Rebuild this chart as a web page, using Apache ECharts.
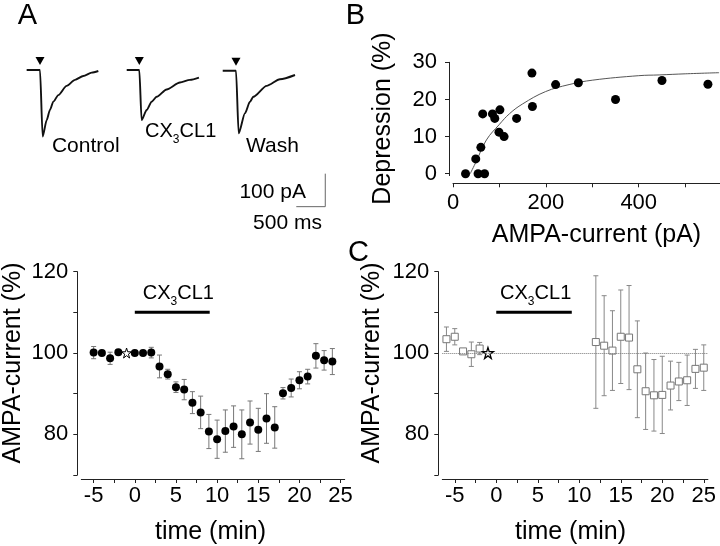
<!DOCTYPE html>
<html><head><meta charset="utf-8">
<script src="https://cdn.jsdelivr.net/npm/echarts@6/dist/echarts.min.js"></script>
<style>html,body{margin:0;padding:0;background:#fff}#c{width:720px;height:546px}</style>
</head><body><div id="c"></div>
<script>
// ---------- Panel A: example traces (ms from stimulus, pA) ----------
const controlTime = [-230, 0, 46, 115, 172, 230, 316, 460, 604, 747, 891, 1006];
const controlCurr = [0, 0, -202, -152, -121, -96, -76, -48, -30, -18, -8, -3];
const cxTime = [-217, 0, 40, 127, 213, 299, 472, 701, 874, 1029];
const cxCurr = [0, 0, -152, -121, -96, -81, -59, -38, -30, -23];
const washTime = [-229, 0, 46, 155, 241, 299, 529, 759, 1018];
const washCurr = [0, 0, -190, -129, -94, -79, -46, -26, -13];
const stimMarkCurr = 27;
const scaleBarMs = 500, scaleBarPA = 100;

// ---------- Panel B ----------
const bCurrent = [27, 49, 54, 60, 68, 64, 85, 90, 101, 99, 110, 137, 170, 171, 221, 270, 350, 450, 549];
const bDepression = [0, 4.0, 0, 7.1, 0, 16.1, 16.1, 14.9, 17.2, 11.2, 10.0, 14.9, 27.1, 18.1, 24.0, 24.5, 20.0, 25.1, 24.1];
const bFitX = [37, 50, 72, 100, 122, 150, 199, 250, 301, 400, 444, 500, 573];
const bFitY = [0, 3.3, 9.1, 13.3, 16.2, 18.8, 22.1, 24.0, 25.2, 26.4, 26.6, 26.9, 27.2];
const bXLabels = [0, 200, 400];
const bXTicks = [0, 100, 200, 300, 400, 500];
const bYLabels = [0, 10, 20, 30];

// ---------- Bottom-left time course ----------
const leftTime = [-5, -4, -3, -2, 0, 1, 2, 3, 4, 5, 6, 7, 8, 9, 10, 11, 12, 13, 14, 15, 16, 17, 18, 19, 20, 21, 22, 23, 24];
const leftMean = [100.1, 100.0, 98.7, 100.2, 100.0, 100.0, 100.1, 96.7, 94.8, 91.6, 91.0, 87.8, 85.4, 80.7, 78.8, 80.8, 81.9, 80.0, 82.9, 81.1, 83.9, 81.7, 90.1, 91.4, 93.3, 94.2, 99.3, 98.2, 97.9];
const leftErr = [1.5, 0, 1.5, 0, 0, 0, 1.3, 2.8, 1.2, 1.3, 2.5, 2.7, 4.0, 4.2, 4.7, 5.2, 5.1, 6.0, 5.3, 5.3, 6.1, 5.1, 1.4, 2.2, 2.1, 1.8, 3.0, 2.4, 3.2];
const leftStar = [-1, 100];

// ---------- Panel C time course ----------
const rightTime = [-6, -5, -4, -3, -2, 12, 13, 14, 15, 16, 17, 18, 19, 20, 21, 22, 23, 24, 25];
const rightMean = [103.4, 104.0, 100.4, 99.7, 101.1, 102.7, 101.8, 100.6, 104.0, 103.8, 96.0, 90.6, 89.6, 89.7, 92.0, 93.0, 93.3, 96.1, 96.4];
const rightErr = [3.0, 2.0, 0.6, 3.0, 1.5, 16.3, 12.3, 9.8, 11.5, 12.8, 11.9, 9.4, 8.8, 9.5, 6.0, 4.7, 6.2, 4.8, 5.6];
const rightStar = [-1, 100];
const baselineLevel = 100;

const drugStart = 0, drugEnd = 9.1, drugLevel = 110;
const timeLabels = [-5, 0, 5, 10, 15, 20, 25];
const timeTicks = [-5, -2.5, 0, 2.5, 5, 7.5, 10, 12.5, 15, 17.5, 20, 22.5, 25];
const pctLabels = [80, 100, 120];
const pctTicks = [70, 80, 90, 100, 110, 120];

// ---------- build ----------
const FF = '"Liberation Sans", Arial, Helvetica, sans-serif';
const AX = '#222';
const zip = (a, b) => a.map((v, i) => [v, b[i]]);
const zip3 = (a, b, c) => a.map((v, i) => [v, b[i], c[i]]);
const STAR = 'path://M50,2 L61,37 L98,37 L68,59 L79,95 L50,73 L21,95 L32,59 L2,37 L39,37 Z';

function errRender(color) {
  return function (params, api) {
    const x = api.value(0), y = api.value(1), e = api.value(2);
    if (!e) return null;
    const t = api.coord([x, y + e]), b = api.coord([x, y - e]);
    const hw = 2.5, st = { stroke: color, lineWidth: 1 };
    return { type: 'group', children: [
      { type: 'line', shape: { x1: t[0], y1: t[1], x2: b[0], y2: b[1] }, style: st },
      { type: 'line', shape: { x1: t[0] - hw, y1: t[1], x2: t[0] + hw, y2: t[1] }, style: st },
      { type: 'line', shape: { x1: b[0] - hw, y1: b[1], x2: b[0] + hw, y2: b[1] }, style: st }
    ]};
  };
}

function traceAxisX(i) { return { gridIndex: i, type: 'value', min: -250, max: 1600, show: false }; }
function traceAxisY(i) { return { gridIndex: i, type: 'value', min: -430, max: 60, show: false }; }

function valueAxis(gi, opt) {
  return Object.assign({
    gridIndex: gi, type: 'value', splitLine: { show: false },
    axisLine: { show: true, onZero: false, lineStyle: { color: AX, width: 1 } },
    axisTick: { show: true, length: 4, lineStyle: { color: AX } },
    axisLabel: { color: '#000', fontSize: 22, fontFamily: FF }
  }, opt);
}

const timeX = (gi) => valueAxis(gi, {
  min: -6.5, max: 25.5, offset: 4,
  axisTick: { show: true, length: 4, lineStyle: { color: AX }, customValues: timeTicks },
  axisLabel: { color: '#000', fontSize: 22, fontFamily: FF, margin: 6, customValues: timeLabels }
});
const pctY = (gi) => valueAxis(gi, {
  min: 70, max: 120, offset: 4,
  axisTick: { show: true, length: 4, lineStyle: { color: AX }, customValues: pctTicks },
  axisLabel: { color: '#000', fontSize: 22, fontFamily: FF, margin: 9, customValues: pctLabels }
});

function traceSeries(gi, t, c) {
  return { type: 'line', xAxisIndex: gi, yAxisIndex: gi, data: zip(t, c), symbol: 'none',
    smooth: 0.25, smoothMonotone: 'x', lineStyle: { color: '#111', width: 1.9 }, z: 3 };
}
function stimSeries(gi) {
  return { type: 'scatter', xAxisIndex: gi, yAxisIndex: gi, data: [[0, stimMarkCurr]],
    symbol: 'triangle', symbolRotate: 180, symbolSize: [9, 8], itemStyle: { color: '#000', opacity: 1 } };
}

function txt(x, y, s, size, align, rot) {
  return { type: 'text', x: x, y: y, rotation: rot || 0, style: {
    text: s, fontSize: size, fontFamily: FF, fill: '#000',
    textAlign: align || 'center', textVerticalAlign: 'middle' } };
}
// "CX3CL1" with subscript 3; x = left edge, yc = vertical centre of capitals
function cxText(x, yc) {
  return { type: 'group', children: [
    txt(x, yc, 'CX', 20, 'left'),
    txt(x + 27.8, yc + 9, '3', 12, 'left'),
    txt(x + 34.6, yc, 'CL1', 20, 'left')
  ] };
}

const option = {
  animation: false,
  backgroundColor: '#fff',
  textStyle: { fontFamily: FF },
  grid: [
    { left: 25.5, top: 50.2, width: 107.25, height: 161.7 },
    { left: 124.8, top: 50.2, width: 107.25, height: 161.7 },
    { left: 221.5, top: 50.9, width: 107.25, height: 161.7 },
    { left: 453, top: 62.3, width: 268, height: 113.3 },
    { left: 81.3, top: 271.7, width: 263.4, height: 203.3 },
    { left: 442.3, top: 271.7, width: 265.6, height: 203.3 }
  ],
  xAxis: [
    traceAxisX(0), traceAxisX(1), traceAxisX(2),
    valueAxis(3, { min: 0, max: 575, offset: 7.7,
      axisTick: { show: true, length: 4, lineStyle: { color: AX }, customValues: bXTicks },
      axisLabel: { color: '#000', fontSize: 22, fontFamily: FF, margin: 9, customValues: bXLabels } }),
    timeX(4), timeX(5)
  ],
  yAxis: [
    traceAxisY(0), traceAxisY(1), traceAxisY(2),
    valueAxis(3, { min: -0.5, max: 30, offset: 4,
      axisTick: { show: true, length: 4, lineStyle: { color: AX }, customValues: bYLabels },
      axisLabel: { color: '#000', fontSize: 22, fontFamily: FF, margin: 12, customValues: bYLabels } }),
    pctY(4), pctY(5)
  ],
  series: [
    traceSeries(0, controlTime, controlCurr), stimSeries(0),
    traceSeries(1, cxTime, cxCurr), stimSeries(1),
    traceSeries(2, washTime, washCurr), stimSeries(2),
    // scale bar (500 ms, 100 pA) drawn in the trace coordinates
    { type: 'line', xAxisIndex: 2, yAxisIndex: 2, symbol: 'none',
      data: [[1540 - scaleBarMs, -412], [1540, -412], [1540, -412 + scaleBarPA]],
      lineStyle: { color: '#666', width: 1 } },
    // Panel B
    { type: 'line', xAxisIndex: 3, yAxisIndex: 3, data: zip(bFitX, bFitY), symbol: 'none',
      smooth: 0.4, lineStyle: { color: '#555', width: 1 }, z: 2 },
    { type: 'scatter', xAxisIndex: 3, yAxisIndex: 3, data: zip(bCurrent, bDepression),
      symbol: 'circle', symbolSize: 9, itemStyle: { color: '#000', opacity: 1 }, z: 3 },
    // Bottom-left
    { type: 'line', xAxisIndex: 4, yAxisIndex: 4, symbol: 'none',
      data: [[drugStart, drugLevel], [drugEnd, drugLevel]], lineStyle: { color: '#000', width: 3 } },
    { type: 'custom', xAxisIndex: 4, yAxisIndex: 4, renderItem: errRender('#777'),
      data: zip3(leftTime, leftMean, leftErr), encode: { x: 0, y: 1 }, z: 2 },
    { type: 'scatter', xAxisIndex: 4, yAxisIndex: 4, data: zip(leftTime, leftMean),
      symbol: 'circle', symbolSize: 8, itemStyle: { color: '#000', opacity: 1 }, z: 3 },
    { type: 'scatter', xAxisIndex: 4, yAxisIndex: 4, data: [leftStar], symbol: STAR, symbolSize: 10,
      itemStyle: { color: '#fff', borderColor: '#000', borderWidth: 1, opacity: 1 }, z: 4 },
    // Panel C
    { type: 'line', xAxisIndex: 5, yAxisIndex: 5, symbol: 'none',
      data: [[drugStart, drugLevel], [drugEnd, drugLevel]], lineStyle: { color: '#000', width: 3 },
      markLine: { silent: true, symbol: 'none', label: { show: false },
        lineStyle: { color: '#777', type: 'dotted', width: 1 }, data: [{ yAxis: baselineLevel }] } },
    { type: 'custom', xAxisIndex: 5, yAxisIndex: 5, renderItem: errRender('#888'),
      data: zip3(rightTime, rightMean, rightErr), encode: { x: 0, y: 1 }, z: 2 },
    { type: 'scatter', xAxisIndex: 5, yAxisIndex: 5, data: zip(rightTime, rightMean),
      symbol: 'rect', symbolSize: 7, itemStyle: { color: '#fff', borderColor: '#777', borderWidth: 1, opacity: 1 }, z: 3 },
    { type: 'scatter', xAxisIndex: 5, yAxisIndex: 5, data: [rightStar], symbol: STAR, symbolSize: 11,
      itemStyle: { color: '#fff', borderColor: '#000', borderWidth: 1.3, opacity: 1 }, z: 4 }
  ],
  graphic: [
    txt(27.5, 16, 'A', 29), txt(355.5, 16, 'B', 29), txt(358.5, 253, 'C', 29),
    txt(85.8, 146.5, 'Control', 21), cxText(145, 131), txt(272.5, 146.5, 'Wash', 21),
    txt(306, 192.5, '100 pA', 21, 'right'), txt(287.5, 223, '500 ms', 21),
    txt(383, 118.5, 'Depression (%)', 25, 'center', Math.PI / 2),
    txt(596.5, 235, 'AMPA-current (pA)', 25),
    txt(13, 363, 'AMPA-current (%)', 25, 'center', Math.PI / 2),
    txt(372, 363, 'AMPA-current (%)', 25, 'center', Math.PI / 2),
    txt(210.5, 532, 'time (min)', 25), txt(570.5, 532, 'time (min)', 25),
    cxText(142.7, 293), cxText(500, 293)
  ]
};
const chart = echarts.init(document.getElementById('c'), null, { renderer: 'canvas' });
chart.setOption(option);
</script></body></html>
